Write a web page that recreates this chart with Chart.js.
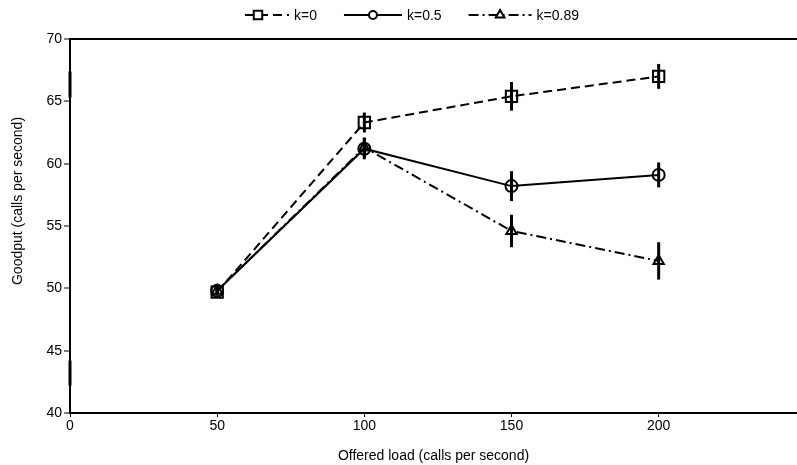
<!DOCTYPE html>
<html>
<head>
<meta charset="utf-8">
<script src="https://cdn.jsdelivr.net/npm/chart.js@4.4.1/dist/chart.umd.min.js"></script>
<style>
  html, body { margin: 0; padding: 0; background: #fff; }
  #wrap { width: 797px; height: 465px; }
</style>
</head>
<body>
<div id="wrap"><canvas id="goodput"></canvas></div>
<script>
// offered load (calls per second)
var loads = [50, 100, 150, 200];
var seriesNames = ['k=0', 'k=0.5', 'k=0.89'];

// goodput (calls per second) and error half-widths
var goodK0 = [49.7, 63.3, 65.4, 67.0];
var errK0 = [0.3, 0.8, 1.15, 1.0];
var goodK05 = [49.8, 61.2, 58.2, 59.1];
var errK05 = [0.3, 0.85, 1.2, 1.0];
var goodK089 = [49.8, 61.3, 54.6, 52.2];
var errK089 = [0.3, 0.8, 1.3, 1.5];

// stray bars sitting on the y axis at load 0
var axisBars = [[65.3, 67.4], [42.2, 44.2]];

var xTicks = [0, 50, 100, 150, 200];
var yTicks = [40, 45, 50, 55, 60, 65, 70];
var yTitle = 'Goodput (calls per second)';

var FONT = '"Liberation Sans", Arial, sans-serif';

function pts(ys) {
  return loads.map(function (x, i) { return { x: x, y: ys[i] }; });
}

var errs = [errK0, errK05, errK089];

var errorBars = {
  id: 'errorBars',
  afterDatasetsDraw: function (chart) {
    var ctx = chart.ctx, xs = chart.scales.x, ys = chart.scales.y;
    ctx.save();
    ctx.strokeStyle = '#000';
    ctx.lineWidth = 3;
    chart.data.datasets.forEach(function (ds, d) {
      ds.data.forEach(function (p, i) {
        var px = xs.getPixelForValue(p.x);
        ctx.beginPath();
        ctx.moveTo(px, ys.getPixelForValue(p.y - errs[d][i]));
        ctx.lineTo(px, ys.getPixelForValue(p.y + errs[d][i]));
        ctx.stroke();
      });
    });
    axisBars.forEach(function (b) {
      var px = xs.getPixelForValue(0);
      ctx.beginPath();
      ctx.moveTo(px, ys.getPixelForValue(b[0]));
      ctx.lineTo(px, ys.getPixelForValue(b[1]));
      ctx.stroke();
    });
    ctx.restore();
  }
};

var lineLegend = {
  id: 'lineLegend',
  afterDraw: function (chart) {
    var ctx = chart.ctx;
    var segs = [44, 58, 63];
    var sizes = [6, 4, 5];
    ctx.save();
    ctx.font = '14px ' + FONT;
    ctx.textBaseline = 'middle';
    var total = 0;
    chart.data.datasets.forEach(function (ds, i) {
      total += segs[i] + 5 + ctx.measureText(ds.label).width + (i < 2 ? 27 : 0);
    });
    var x = 412 - total / 2, y = 15;
    chart.data.datasets.forEach(function (ds, i) {
      ctx.strokeStyle = '#000';
      ctx.lineWidth = 2;
      ctx.setLineDash(ds.borderDash || []);
      ctx.beginPath();
      ctx.moveTo(x, y);
      ctx.lineTo(x + segs[i], y);
      ctx.stroke();
      ctx.setLineDash([]);
      var mx = i === 0 ? x + 13 : x + segs[i] / 2;
      ctx.fillStyle = '#fff';
      Chart.helpers.drawPoint(ctx, {
        pointStyle: ds.pointStyle, radius: sizes[i],
        borderWidth: 2
      }, mx, y);
      ctx.fillStyle = '#000';
      ctx.fillText(ds.label, x + segs[i] + 5, y + 1);
      x += segs[i] + 5 + ctx.measureText(ds.label).width + 27;
    });
    // y axis title, drawn a little above the plot middle as in the source
    ctx.translate(18, 201);
    ctx.rotate(-Math.PI / 2);
    ctx.textAlign = 'center';
    ctx.fillText(yTitle, 0, 0);
    ctx.restore();
  }
};

function series(label, ys, dash, style, r) {
  return {
    label: label,
    data: pts(ys),
    borderColor: '#000',
    backgroundColor: 'rgba(0,0,0,0)',
    borderWidth: 2,
    borderDash: dash,
    pointStyle: style,
    pointRadius: r,
    pointBorderWidth: 2,
    pointBorderColor: '#000',
    pointBackgroundColor: 'rgba(0,0,0,0)',
    tension: 0
  };
}

new Chart(document.getElementById('goodput').getContext('2d'), {
  type: 'line',
  data: {
    datasets: [
      series(seriesNames[0], goodK0, [9, 5], 'rect', 8),
      series(seriesNames[1], goodK05, [], 'circle', 6),
      series(seriesNames[2], goodK089, [10, 4, 2, 4], 'triangle', 6)
    ]
  },
  plugins: [errorBars, lineLegend],
  options: {
    responsive: true,
    maintainAspectRatio: false,
    animation: false,
    layout: { autoPadding: false, padding: { top: 39, right: 0, left: 0, bottom: 0 } },
    plugins: { legend: { display: false }, tooltip: { enabled: false } },
    scales: {
      x: {
        type: 'linear',
        min: 0,
        max: 247,
        afterBuildTicks: function (s) {
          s.ticks = xTicks.map(function (v) { return { value: v }; });
        },
        afterFit: function (s) { s.height = 52; },
        grid: { drawOnChartArea: false, tickLength: 4, tickColor: '#000', tickWidth: 1 },
        border: { color: '#000', width: 2 },
        ticks: { color: '#000', padding: 1, maxRotation: 0, font: { family: FONT, size: 14 } },
        title: {
          display: true, text: 'Offered load (calls per second)', color: '#000',
          font: { family: FONT, size: 14 }, padding: { top: 4, bottom: 0 }
        }
      },
      y: {
        min: 40,
        max: 70,
        afterBuildTicks: function (s) {
          s.ticks = yTicks.map(function (v) { return { value: v }; });
        },
        afterFit: function (s) { s.width = 70; },
        grid: {
          color: function (c) { return c.tick && c.tick.value === 70 ? '#000' : 'rgba(0,0,0,0)'; },
          lineWidth: 2,
          tickColor: '#000',
          tickWidth: 1,
          tickLength: 6
        },
        border: { color: '#000', width: 2 },
        ticks: { color: '#000', padding: 2, font: { family: FONT, size: 14 } },
        title: { display: false }
      }
    }
  }
});
</script>
</body>
</html>
